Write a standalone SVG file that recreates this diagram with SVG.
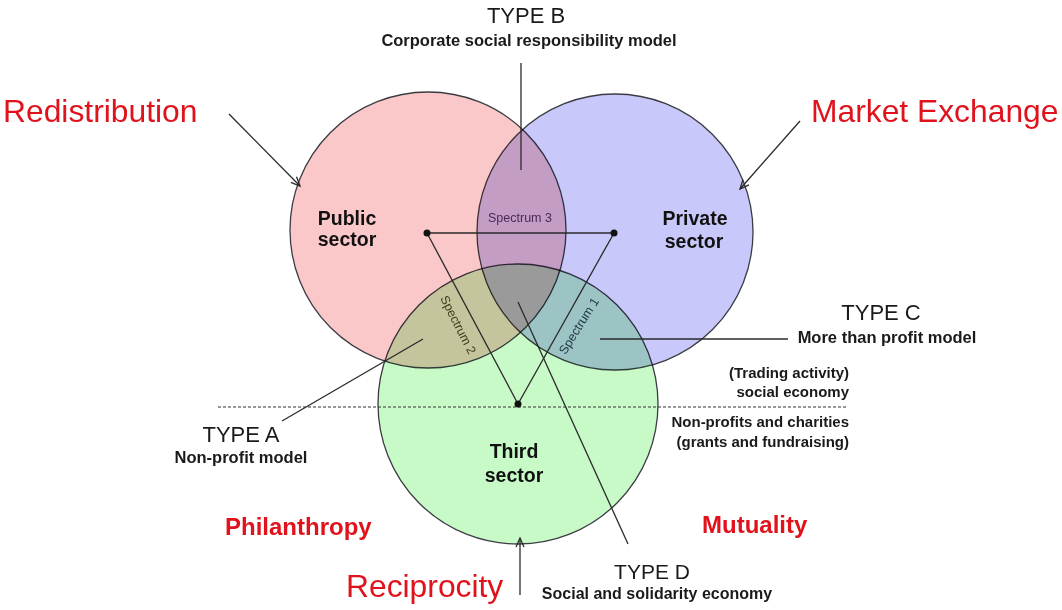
<svg xmlns="http://www.w3.org/2000/svg" width="1062" height="610" viewBox="0 0 1062 610">
<defs>
<style>
.circ{stroke:#3c3c44;stroke-width:1.3;mix-blend-mode:multiply}
.ln{stroke:#2a2a2a;stroke-width:1.3;fill:none}
.dash{stroke:#333;stroke-width:1.2;stroke-dasharray:3 2;fill:none}
.big{font-family:"Liberation Sans",Arial,sans-serif;font-size:31.8px;fill:#e0121c}
.redb{font-family:"Liberation Sans",Arial,sans-serif;font-size:24px;font-weight:bold;fill:#e0121c}
.type{font-family:"Liberation Sans",Arial,sans-serif;font-size:22px;fill:#1a1a1a}
.sub{font-family:"Liberation Sans",Arial,sans-serif;font-size:16.5px;font-weight:bold;fill:#1a1a1a}
.note{font-family:"Liberation Sans",Arial,sans-serif;font-size:15px;font-weight:bold;fill:#1a1a1a}
.sector{font-family:"Liberation Sans",Arial,sans-serif;font-size:19.5px;font-weight:bold;fill:#111}
.spec{font-family:"Liberation Sans",Arial,sans-serif;font-size:12.5px}
</style>
<marker id="arr" markerUnits="userSpaceOnUse" markerWidth="14" markerHeight="14" refX="10" refY="5" orient="auto">
<path d="M1,1 L10,5 L1,9" fill="none" stroke="#2a2a2a" stroke-width="1.3"/>
</marker>
</defs>
<rect width="1062" height="610" fill="#fff"/>
<g id="sectors" style="isolation:isolate">
<circle id="public-circle" class="circ" cx="428" cy="230" r="138" fill="#fac8c8"/>
<circle id="private-circle" class="circ" cx="615" cy="232" r="138" fill="#c8c8fa"/>
<circle id="third-circle" class="circ" cx="518" cy="404" r="140" fill="#c8fac8"/>
</g>
<g id="connectors">
<line class="dash" x1="218" y1="407" x2="847" y2="407"/>
<line class="ln" x1="427" y1="233" x2="614" y2="233"/>
<line class="ln" x1="427" y1="233" x2="518" y2="404"/>
<line class="ln" x1="614" y1="233" x2="518" y2="404"/>
<line class="ln" x1="521" y1="63" x2="521" y2="170"/>
<line class="ln" x1="600" y1="339" x2="788" y2="339"/>
<line class="ln" x1="423" y1="339" x2="282" y2="421"/>
<line class="ln" x1="518" y1="302" x2="628" y2="544"/>
<line class="ln" x1="229" y1="114" x2="300" y2="186" marker-end="url(#arr)"/>
<line class="ln" x1="800" y1="121" x2="740" y2="189" marker-end="url(#arr)"/>
<line class="ln" x1="520" y1="595" x2="520" y2="538" marker-end="url(#arr)"/>
<circle cx="427" cy="233" r="3.5" fill="#111"/>
<circle cx="614" cy="233" r="3.5" fill="#111"/>
<circle cx="518" cy="404" r="3.5" fill="#111"/>
</g>
<g id="public-sector"><text class="sector" text-anchor="middle" x="347" y="225">Public</text><text class="sector" text-anchor="middle" x="347" y="246">sector</text></g>
<g id="private-sector"><text class="sector" text-anchor="middle" x="695" y="225">Private</text><text class="sector" text-anchor="middle" x="694" y="248">sector</text></g>
<g id="third-sector"><text class="sector" text-anchor="middle" x="514" y="458">Third</text><text class="sector" text-anchor="middle" x="514" y="482">sector</text></g>
<g id="spectrum-3"><text class="spec" fill="#4a2a5a" text-anchor="middle" x="520" y="222">Spectrum 3</text></g>
<g id="spectrum-2"><text class="spec" fill="#3c3c1c" text-anchor="middle" transform="translate(458,325) rotate(63)" x="0" y="4">Spectrum 2</text></g>
<g id="spectrum-1"><text class="spec" fill="#1c3444" text-anchor="middle" transform="translate(579,326) rotate(-58)" x="0" y="4">Spectrum 1</text></g>
<g id="type-b"><text class="type" text-anchor="middle" x="526" y="23">TYPE B</text><text class="sub" text-anchor="middle" x="529" y="46">Corporate social responsibility model</text></g>
<g id="type-c"><text class="type" text-anchor="middle" x="881" y="320">TYPE C</text><text class="sub" text-anchor="middle" x="887" y="343">More than profit model</text></g>
<g id="type-a"><text class="type" text-anchor="middle" x="241" y="442">TYPE A</text><text class="sub" text-anchor="middle" x="241" y="463">Non-profit model</text></g>
<g id="type-d"><text class="type" text-anchor="middle" x="652" y="579" style="font-size:21px">TYPE D</text><text class="sub" text-anchor="middle" x="657" y="599" style="font-size:16px">Social and solidarity economy</text></g>
<g id="economy-notes">
<text class="note" text-anchor="end" x="849" y="378">(Trading activity)</text>
<text class="note" text-anchor="end" x="849" y="397">social economy</text>
<text class="note" text-anchor="end" x="849" y="427">Non-profits and charities</text>
<text class="note" text-anchor="end" x="849" y="447">(grants and fundraising)</text>
</g>
<g id="redistribution"><text class="big" x="3" y="122">Redistribution</text></g>
<g id="market-exchange"><text class="big" x="811" y="122">Market Exchange</text></g>
<g id="reciprocity"><text class="big" x="346" y="597">Reciprocity</text></g>
<g id="philanthropy"><text class="redb" x="225" y="535">Philanthropy</text></g>
<g id="mutuality"><text class="redb" x="702" y="533">Mutuality</text></g>
</svg>
